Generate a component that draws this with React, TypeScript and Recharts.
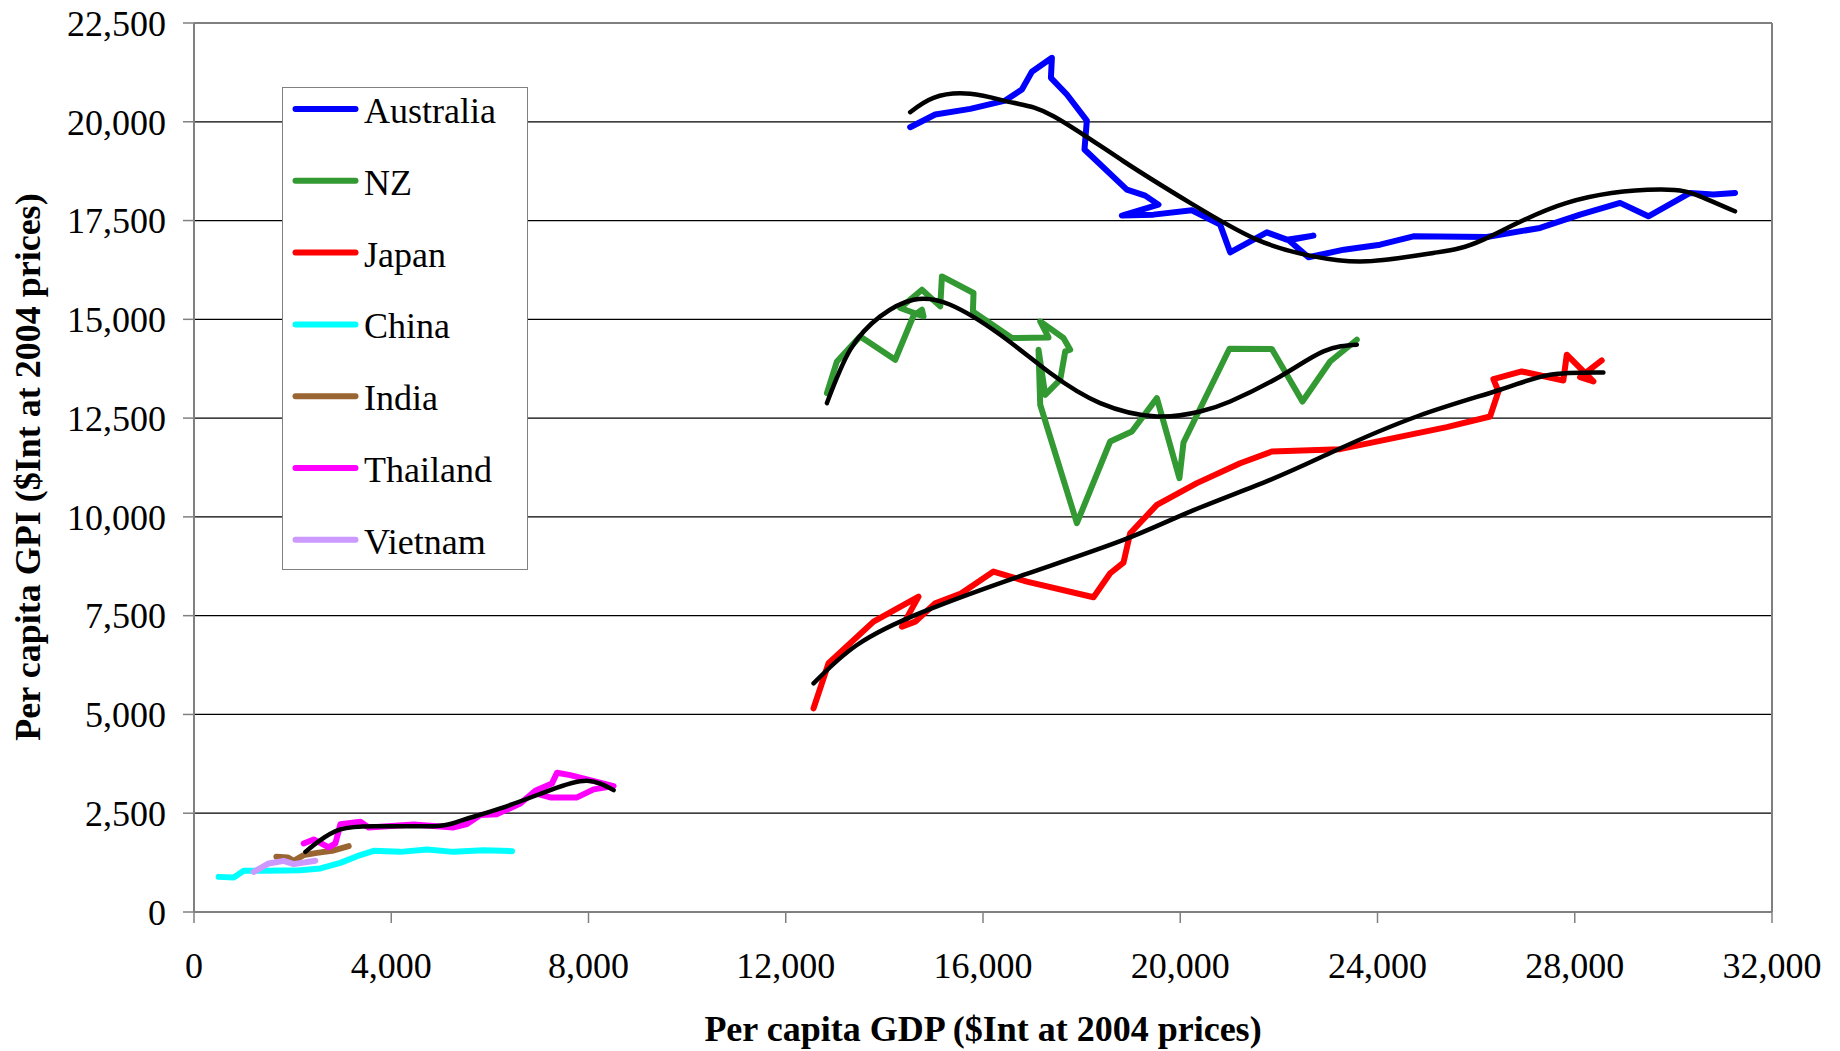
import React from 'react';
import { LineChart, Line, XAxis, YAxis, CartesianGrid, ReferenceLine, Legend } from 'recharts';

const FONT = '"Liberation Serif", "Times New Roman", serif';

type Pt = [number, number]; // [GDP per capita, GPI per capita]

const xTicks = [0, 4000, 8000, 12000, 16000, 20000, 24000, 28000, 32000];
const yTicks = [0, 2500, 5000, 7500, 10000, 12500, 15000, 17500, 20000, 22500];

const australia: Pt[] = [
  [14523, 19862], [15031, 20183], [15741, 20327], [16450, 20537], [16789, 20816], [16991, 21265],
  [17397, 21619], [17377, 21113], [17701, 20690], [18106, 20031], [18058, 19297], [18917, 18283],
  [19289, 18131], [19558, 17903], [18816, 17625], [19457, 17650], [20235, 17760], [20809, 17397],
  [21012, 16696], [21756, 17202], [22161, 17017], [22701, 17118], [22200, 17000], [22600, 16570],
  [23319, 16763], [24052, 16890], [24728, 17101], [26216, 17085], [27297, 17313], [28108, 17650],
  [28919, 17947], [29493, 17607], [30338, 18200], [30811, 18157], [31250, 18200],
];
const australiaTrend: Pt[] = [
  [14523, 20242], [14997, 20606], [15741, 20707], [16619, 20480], [17430, 20141], [18849, 19001],
  [20201, 17946], [21553, 17017], [22701, 16594], [23783, 16467], [25134, 16680], [26147, 17017],
  [27838, 17946], [29730, 18283], [30540, 18114], [31250, 17734],
];

const nz: Pt[] = [
  [12835, 13134], [13038, 13934], [13510, 14568], [14220, 13977], [14591, 15092], [14762, 15244],
  [14794, 15075], [14321, 15287], [14762, 15750], [15133, 15328], [15167, 16087], [15808, 15666],
  [15795, 15201], [16586, 14527], [17329, 14542], [17160, 14947], [17632, 14527], [17768, 14231],
  [17667, 14188], [17566, 13471], [17261, 13091], [17126, 14231], [17160, 12838], [17904, 9841],
  [18579, 11908], [19019, 12162], [19526, 13007], [19983, 10981], [20066, 11883], [20998, 14256],
  [21857, 14248], [22478, 12921], [23039, 13934], [23580, 14484],
];
const nzTrend: Pt[] = [
  [12835, 12880], [13308, 14231], [13916, 15075], [14591, 15497], [15336, 15370], [16349, 14610],
  [17363, 13640], [18376, 12880], [19526, 12541], [20404, 12668], [21012, 12921], [22026, 13554],
  [22904, 14188], [23580, 14357],
];

const japan: Pt[] = [
  [12564, 5155], [12868, 6294], [13780, 7348], [14693, 7982], [14356, 7222], [14625, 7348],
  [15031, 7815], [15538, 8050], [16213, 8615], [16890, 8362], [18241, 7966], [18579, 8574],
  [18849, 8843], [18985, 9587], [19526, 10304], [20337, 10854], [21215, 11359], [21857, 11655],
  [23242, 11714], [25405, 12272], [26283, 12541], [26452, 13174], [26350, 13488], [26925, 13681],
  [27769, 13453], [27838, 14104], [28378, 13428], [28108, 13539], [28547, 13959],
];
const japanTrend: Pt[] = [
  [12564, 5788], [13444, 6758], [14794, 7602], [16821, 8531], [18849, 9418], [20201, 10135],
  [21823, 10938], [23106, 11655], [24797, 12541], [26486, 13218], [27500, 13598], [28581, 13656],
];

const china: Pt[] = [
  [501, 889], [805, 874], [1008, 1041], [1482, 1041], [2157, 1059], [2563, 1102], [2968, 1244],
  [3307, 1413], [3644, 1548], [4185, 1522], [4726, 1583], [5265, 1522], [5873, 1565], [6449, 1540],
];

const india: Pt[] = [
  [1671, 1397], [1900, 1380], [2022, 1295], [2224, 1439], [2495, 1497], [2800, 1548], [3137, 1667],
];

const thailand: Pt[] = [
  [2224, 1735], [2427, 1836], [2731, 1634], [2867, 1735], [2968, 2224], [3374, 2282], [3542, 2140],
  [4455, 2216], [5265, 2140], [5536, 2224], [5806, 2452], [6145, 2477], [6617, 2748], [6921, 3068],
  [7260, 3255], [7361, 3524], [7631, 3465], [8509, 3187], [8104, 3103], [7767, 2900], [7226, 2900],
  [6921, 3001],
];
const thailandTrend: Pt[] = [
  [2259, 1522], [2563, 1819], [2968, 2090], [3644, 2173], [4860, 2173], [5401, 2308], [6212, 2622],
  [7226, 3085], [7969, 3321], [8509, 3085],
];

const vietnam: Pt[] = [
  [1211, 1016], [1515, 1228], [1819, 1295], [2022, 1211], [2461, 1295],
];

const seriesList = [
  { name: 'Australia', color: '#0000FF', points: australia },
  { name: 'NZ', color: '#339933', points: nz },
  { name: 'Japan', color: '#FF0000', points: japan },
  { name: 'China', color: '#00FFFF', points: china },
  { name: 'India', color: '#996633', points: india },
  { name: 'Thailand', color: '#FF00FF', points: thailand },
  { name: 'Vietnam', color: '#CC99FF', points: vietnam },
];

const trendList = [
  { name: 'Australia trend', points: australiaTrend },
  { name: 'NZ trend', points: nzTrend },
  { name: 'Japan trend', points: japanTrend },
  { name: 'Thailand trend', points: thailandTrend },
];

const toData = (pts: Pt[]) => pts.map(([x, y]) => ({ x, y }));
const fmt = (v: number) => v.toLocaleString('en-US');

function LegendBox() {
  return (
    <svg width={247} height={484} style={{ display: 'block' }}>
      <rect x={0.5} y={0.5} width={245} height={482} fill="#fff" stroke="#808080" strokeWidth={1} />
      {seriesList.map((s, i) => {
        const cy = 22 + i * 71.8;
        return (
          <g key={s.name}>
            <line x1={13.5} x2={73.5} y1={cy} y2={cy} stroke={s.color} strokeWidth={6} strokeLinecap="round" />
            <text x={82} y={cy + 14} fontFamily={FONT} fontSize={36} fill="#000">{s.name}</text>
          </g>
        );
      })}
    </svg>
  );
}

function XTitle() {
  return (
    <text x={983} y={1041} textAnchor="middle" fontFamily={FONT} fontWeight="bold" fontSize={36} fill="#000">
      Per capita GDP ($Int at 2004 prices)
    </text>
  );
}

function YTitle() {
  return (
    <text x={40} y={467} transform="rotate(-90, 40, 467)" textAnchor="middle" fontFamily={FONT} fontWeight="bold" fontSize={36} fill="#000">
      Per capita GPI ($Int at 2004 prices)
    </text>
  );
}

export default function App() {
  return (
    <div style={{ width: 1840, height: 1051, background: '#fff' }}>
      <style>{'body{margin:0;background:#fff}'}</style>
      <LineChart width={1840} height={1051} margin={{ top: 23, right: 68, bottom: 79, left: 94 }}>
        <CartesianGrid vertical={false} stroke="#000" strokeWidth={1.2} />
        <XAxis
          type="number"
          dataKey="x"
          domain={[0, 32000]}
          ticks={xTicks}
          interval={0}
          tickFormatter={fmt}
          tick={{ fontSize: 36, fontFamily: FONT, fill: '#000' }}
          tickSize={11}
          tickMargin={29}
          tickLine={{ stroke: '#808080', strokeWidth: 1.5 }}
          axisLine={{ stroke: '#808080', strokeWidth: 2 }}
          height={60}
          allowDataOverflow
          label={<XTitle />}
        />
        <YAxis
          type="number"
          domain={[0, 22500]}
          ticks={yTicks}
          interval={0}
          tickFormatter={fmt}
          tick={{ fontSize: 36, fontFamily: FONT, fill: '#000' }}
          tickSize={11}
          tickMargin={17}
          tickLine={{ stroke: '#808080', strokeWidth: 1.5 }}
          axisLine={{ stroke: '#808080', strokeWidth: 2 }}
          width={100}
          allowDataOverflow
          label={<YTitle />}
        />
        <ReferenceLine y={22500} stroke="#808080" strokeWidth={2} />
        <ReferenceLine x={32000} stroke="#808080" strokeWidth={2} />
        {seriesList.map((s) => (
          <Line
            key={s.name}
            name={s.name}
            data={toData(s.points)}
            dataKey="y"
            type="linear"
            stroke={s.color}
            strokeWidth={6}
            strokeLinejoin="round"
            strokeLinecap="round"
            dot={false}
            activeDot={false}
            isAnimationActive={false}
          />
        ))}
        {trendList.map((t) => (
          <Line
            key={t.name}
            name={t.name}
            data={toData(t.points)}
            dataKey="y"
            type="natural"
            stroke="#000"
            strokeWidth={4.5}
            strokeLinecap="round"
            dot={false}
            activeDot={false}
            legendType="none"
            isAnimationActive={false}
          />
        ))}
        <Legend
          layout="vertical"
          align="center"
          verticalAlign="middle"
          content={() => <LegendBox />}
          wrapperStyle={{ position: 'absolute', left: 282, top: 87, width: 247, height: 484 }}
        />
      </LineChart>
    </div>
  );
}
